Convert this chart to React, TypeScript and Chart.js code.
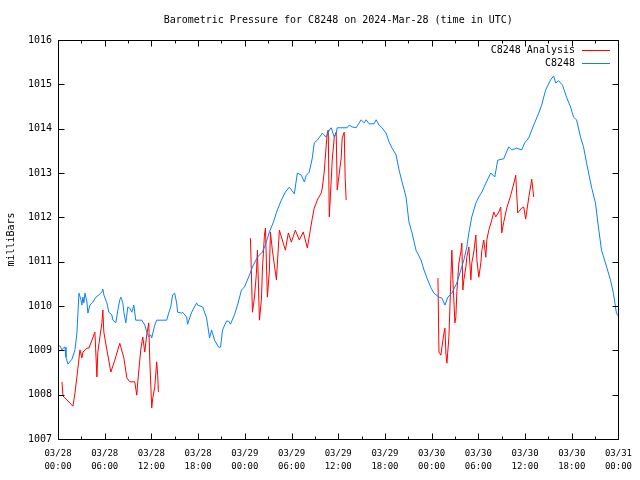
import React, { useEffect, useRef } from 'react';
import { Chart, registerables } from 'chart.js';

Chart.register(...registerables);

// hours since 2024-03-28 00:00 UTC
const blueHours = [0,0.26,0.51,0.77,0.90,1.02,1.28,1.79,2.18,2.43,
  2.56,2.69,2.95,3.07,3.20,3.33,3.46,3.72,3.84,4.10,
  4.36,4.48,4.87,5.25,5.64,5.76,5.89,6.28,6.53,6.92,
  7.05,7.43,7.69,7.94,8.07,8.33,8.46,8.71,8.97,9.22,
  9.48,9.74,9.99,10.50,10.76,11.15,11.40,11.66,11.91,12.04,
  12.43,12.68,13.96,14.22,14.48,14.73,14.99,15.24,15.37,15.89,
  16.01,16.53,16.65,17.17,17.81,17.94,18.58,19.09,19.47,19.73,
  20.11,20.63,20.88,21.14,21.65,21.91,22.16,22.67,23.06,23.57,
  23.96,24.60,24.98,25.62,26.26,26.65,27.16,27.67,28.18,28.70,
  29.21,29.72,30.36,30.75,31.26,31.64,31.90,32.28,32.67,32.92,
  33.31,33.82,33.95,34.46,34.85,35.10,35.49,35.74,35.87,37.15,
  37.41,37.79,38.30,38.94,39.33,39.58,39.97,40.61,40.87,41.25,
  41.63,42.15,42.53,42.92,43.43,43.81,44.20,44.71,45.09,45.48,
  45.99,46.63,47.02,47.40,47.91,48.30,48.94,49.32,49.71,50.09,
  50.60,51.24,51.75,52.14,52.52,52.78,53.16,53.68,54.06,54.45,
  54.96,55.60,56.11,56.49,57.26,57.90,58.29,58.93,59.57,59.95,
  60.47,61.11,61.75,62.13,62.64,63.28,63.67,63.93,64.31,64.82,
  65.33,65.85,66.23,66.62,67.13,67.51,67.90,68.54,69.05,69.43,
  69.82,70.33,70.97,71.35,71.74,72.0];

const blueValues = [1009.10,1009.10,1009.01,1009.07,1009.07,1008.85,1008.69,1008.80,1009.01,1009.39,
  1009.84,1010.29,1010.14,1010.02,1010.20,1010.07,1010.29,1010.09,1009.84,1010.02,
  1010.07,1010.09,1010.20,1010.25,1010.32,1010.38,1010.25,1010.07,1009.86,1009.80,
  1009.68,1009.62,1009.91,1010.14,1010.20,1010.07,1009.86,1009.62,1009.98,1009.95,
  1009.86,1010.02,1009.68,1009.68,1009.68,1009.57,1009.41,1009.30,1009.35,1009.28,
  1009.57,1009.68,1009.68,1009.84,1009.98,1010.25,1010.29,1010.07,1009.86,1009.84,
  1009.86,1009.75,1009.59,1009.86,1010.07,1010.02,1009.98,1009.73,1009.28,1009.46,
  1009.23,1009.07,1009.07,1009.46,1009.66,1009.66,1009.59,1009.80,1010.02,1010.36,
  1010.43,1010.70,1010.88,1011.10,1011.22,1011.38,1011.67,1011.89,1012.17,1012.39,
  1012.57,1012.68,1012.53,1013.00,1012.95,1012.80,1012.95,1013.02,1013.34,1013.68,
  1013.74,1013.86,1013.90,1013.81,1013.97,1014.02,1013.81,1013.90,1014.02,1014.02,
  1014.08,1014.04,1014.02,1014.20,1014.13,1014.20,1014.11,1014.11,1014.20,1014.08,
  1014.02,1013.90,1013.70,1013.56,1013.41,1013.07,1012.80,1012.46,1011.89,1011.65,
  1011.26,1011.04,1010.81,1010.63,1010.41,1010.29,1010.20,1010.18,1010.02,1010.20,
  1010.29,1010.52,1010.81,1011.04,1011.33,1011.65,1012.01,1012.32,1012.46,1012.57,
  1012.77,1013.00,1012.91,1013.29,1013.32,1013.59,1013.52,1013.56,1013.52,1013.68,
  1013.79,1014.08,1014.35,1014.53,1014.87,1015.10,1015.19,1015.03,1015.08,1014.98,
  1014.71,1014.49,1014.26,1014.20,1013.81,1013.59,1013.23,1012.68,1012.32,1011.78,
  1011.26,1010.97,1010.59,1010.29,1009.84,1009.77];

// null values separate the three analysis runs
const redHours = [0.51,0.64,1.15,1.92,2.18,2.56,2.82,3.07,3.20,3.72,
  3.97,4.36,4.74,5.00,5.12,5.38,5.64,5.76,5.89,6.28,
  6.79,7.30,7.94,8.46,8.84,9.22,9.86,10.12,10.25,10.63,
  10.89,11.15,11.40,11.66,11.79,12.04,12.17,12.43,12.68,12.81,12.90,
  18,
  24.72,24.98,25.24,25.49,25.62,25.88,26.13,26.26,26.52,26.65,
  26.90,27.16,27.29,27.54,28.06,28.44,28.82,29.21,29.59,29.98,
  30.49,31.00,31.51,32.03,32.41,32.67,32.92,33.31,33.82,33.95,
  34.20,34.46,34.59,34.72,34.85,35.10,35.23,35.49,35.74,35.87,
  36.00,36.38,36.51,36.77,36.89,37.02,
  43,
  48.81,48.94,49.19,49.32,49.58,49.71,49.83,49.96,50.22,50.35,
  50.47,50.60,50.73,50.99,51.11,51.24,51.50,51.75,51.88,52.01,
  52.14,52.40,52.52,52.78,53.04,53.16,53.42,53.68,53.81,54.06,
  54.32,54.45,54.70,54.96,55.09,55.34,55.73,55.98,56.24,56.62,
  56.88,57.01,57.26,57.65,58.16,58.67,58.80,59.06,59.57,59.83,
  60.08,60.47,60.86,61.11];

const redValues = [1008.29,1007.97,1007.88,1007.74,1008.04,1008.60,1009.01,1008.83,1008.96,1009.05,
  1009.05,1009.23,1009.41,1008.40,1008.96,1009.30,1009.62,1009.91,1009.41,1009.01,
  1008.51,1008.78,1009.16,1008.83,1008.38,1008.29,1008.29,1007.99,1008.29,1009.01,
  1009.30,1008.96,1009.35,1009.62,1008.78,1007.70,1007.92,1008.17,1008.74,1008.44,1008.06,
  null,
  1011.53,1009.86,1010.20,1010.74,1011.26,1009.68,1010.14,1010.81,1011.60,1011.76,
  1010.20,1010.81,1011.67,1011.26,1010.59,1011.71,1011.49,1011.26,1011.65,1011.44,
  1011.71,1011.49,1011.67,1011.31,1011.71,1011.98,1012.21,1012.39,1012.55,1012.66,
  1013.02,1013.63,1013.90,1013.97,1012.01,1012.84,1013.29,1013.81,1013.92,1012.62,
  1012.80,1013.34,1013.79,1013.92,1012.89,1012.39,
  null,
  1010.63,1008.96,1008.89,1009.07,1009.39,1009.50,1008.94,1008.71,1009.30,1009.98,
  1010.63,1011.26,1010.59,1009.62,1009.75,1010.32,1010.97,1011.22,1011.42,1010.36,
  1010.59,1010.88,1011.10,1011.33,1010.59,1010.97,1011.22,1011.60,1011.04,1010.65,
  1010.97,1011.26,1011.49,1011.10,1011.49,1011.71,1011.94,1012.12,1012.01,1012.12,
  1012.23,1011.65,1011.89,1012.21,1012.50,1012.84,1012.95,1012.10,1012.21,1012.23,
  1011.96,1012.44,1012.86,1012.46];

const tickDates = ['03/28','03/28','03/28','03/28','03/29','03/29','03/29','03/29','03/30','03/30','03/30','03/30','03/31'];
const tickTimes = ['00:00','06:00','12:00','18:00','00:00','06:00','12:00','18:00','00:00','06:00','12:00','18:00','00:00'];

const titleText = 'Barometric Pressure for C8248 on 2024-Mar-28 (time in UTC)';
const yLabel = 'milliBars';
const seriesNames = ['C8248 Analysis', 'C8248'];
const RED = '#ff0000';
const BLUE = '#0a80ff';
const FONT = "'DejaVu Sans Mono', monospace";

const framePlugin = {
  id: 'frame',
  afterDraw(chart: any) {
    const { ctx, chartArea: a, scales } = chart;
    ctx.save();
    ctx.strokeStyle = '#000';
    ctx.lineWidth = 1;
    const L = Math.round(a.left) + 0.5;
    const R = Math.round(a.right) + 0.5;
    const T = Math.round(a.top) + 0.5;
    const B = Math.round(a.bottom) + 0.5;
    ctx.beginPath();
    ctx.rect(L, T, R - L, B - T);
    for (let h = 0; h <= 72; h += 3) {
      const x = Math.round(scales.x.getPixelForValue(h)) + 0.5;
      const len = h % 6 === 0 ? 6 : 3;
      ctx.moveTo(x, B); ctx.lineTo(x, B - len);
      ctx.moveTo(x, T); ctx.lineTo(x, T + len);
    }
    for (let v = 1007; v <= 1016; v++) {
      const y = Math.round(scales.y.getPixelForValue(v)) + 0.5;
      ctx.moveTo(L, y); ctx.lineTo(L + 6, y);
      ctx.moveTo(R, y); ctx.lineTo(R - 6, y);
    }
    ctx.stroke();

    ctx.fillStyle = '#000';
    ctx.font = `10px ${FONT}`;
    ctx.textBaseline = 'middle';
    ctx.textAlign = 'center';
    ctx.fillText(titleText, (a.left + a.right) / 2, 20);

    ctx.save();
    ctx.translate(11, (a.top + a.bottom) / 2);
    ctx.rotate(-Math.PI / 2);
    ctx.fillText(yLabel, 0, 0);
    ctx.restore();

    // legend
    const colors = [RED, BLUE];
    ctx.textAlign = 'right';
    seriesNames.forEach((name, i) => {
      const y = 50 + i * 13;
      ctx.fillStyle = '#000';
      ctx.fillText(name, 575, y);
      ctx.strokeStyle = colors[i];
      ctx.beginPath();
      ctx.moveTo(582, Math.round(y) + 0.5);
      ctx.lineTo(610, Math.round(y) + 0.5);
      ctx.stroke();
    });
    ctx.restore();
  },
};

export default function App() {
  const ref = useRef<HTMLCanvasElement | null>(null);

  useEffect(() => {
    if (!ref.current) return;
    const redData = redHours.map((h, i) => ({ x: h, y: redValues[i] }));
    const blueData = blueHours.map((h, i) => ({ x: h, y: blueValues[i] }));
    const chart = new Chart(ref.current, {
      type: 'line',
      data: {
        datasets: [
          {
            label: seriesNames[0],
            data: redData as any,
            borderColor: RED,
            backgroundColor: RED,
            borderWidth: 1,
            pointRadius: 0,
            tension: 0,
            spanGaps: false,
            order: 1,
          },
          {
            label: seriesNames[1],
            data: blueData as any,
            borderColor: BLUE,
            backgroundColor: BLUE,
            borderWidth: 1,
            pointRadius: 0,
            tension: 0,
            order: 0,
          },
        ],
      },
      options: {
        animation: false,
        responsive: false,
        devicePixelRatio: 1,
        layout: { padding: { left: 0, right: 20, top: 40, bottom: 0 } },
        plugins: {
          legend: { display: false },
          title: { display: false },
          tooltip: { enabled: false },
        },
        scales: {
          x: {
            type: 'linear',
            min: 0,
            max: 72,
            grid: { display: false, drawTicks: false },
            border: { display: false },
            ticks: {
              stepSize: 6,
              autoSkip: false,
              maxRotation: 0,
              padding: 8,
              color: '#000',
              font: { family: FONT, size: 9, lineHeight: 1.45 },
              callback: (v: any) => {
                const i = Math.round(Number(v) / 6);
                return [tickDates[i], tickTimes[i]];
              },
            },
            afterFit: (s: any) => { s.height = 41; },
          },
          y: {
            min: 1007,
            max: 1016,
            grid: { display: false, drawTicks: false },
            border: { display: false },
            ticks: {
              stepSize: 1,
              padding: 6,
              color: '#000',
              font: { family: FONT, size: 10 },
              callback: (v: any) => String(v),
            },
            afterFit: (s: any) => { s.width = 58; },
          },
        },
      },
      plugins: [framePlugin],
    });
    return () => chart.destroy();
  }, []);

  return (
    <div style={{ position: 'absolute', left: 0, top: 0, width: 640, height: 480, background: '#fff' }}>
      <canvas ref={ref} width={640} height={480} />
    </div>
  );
}
